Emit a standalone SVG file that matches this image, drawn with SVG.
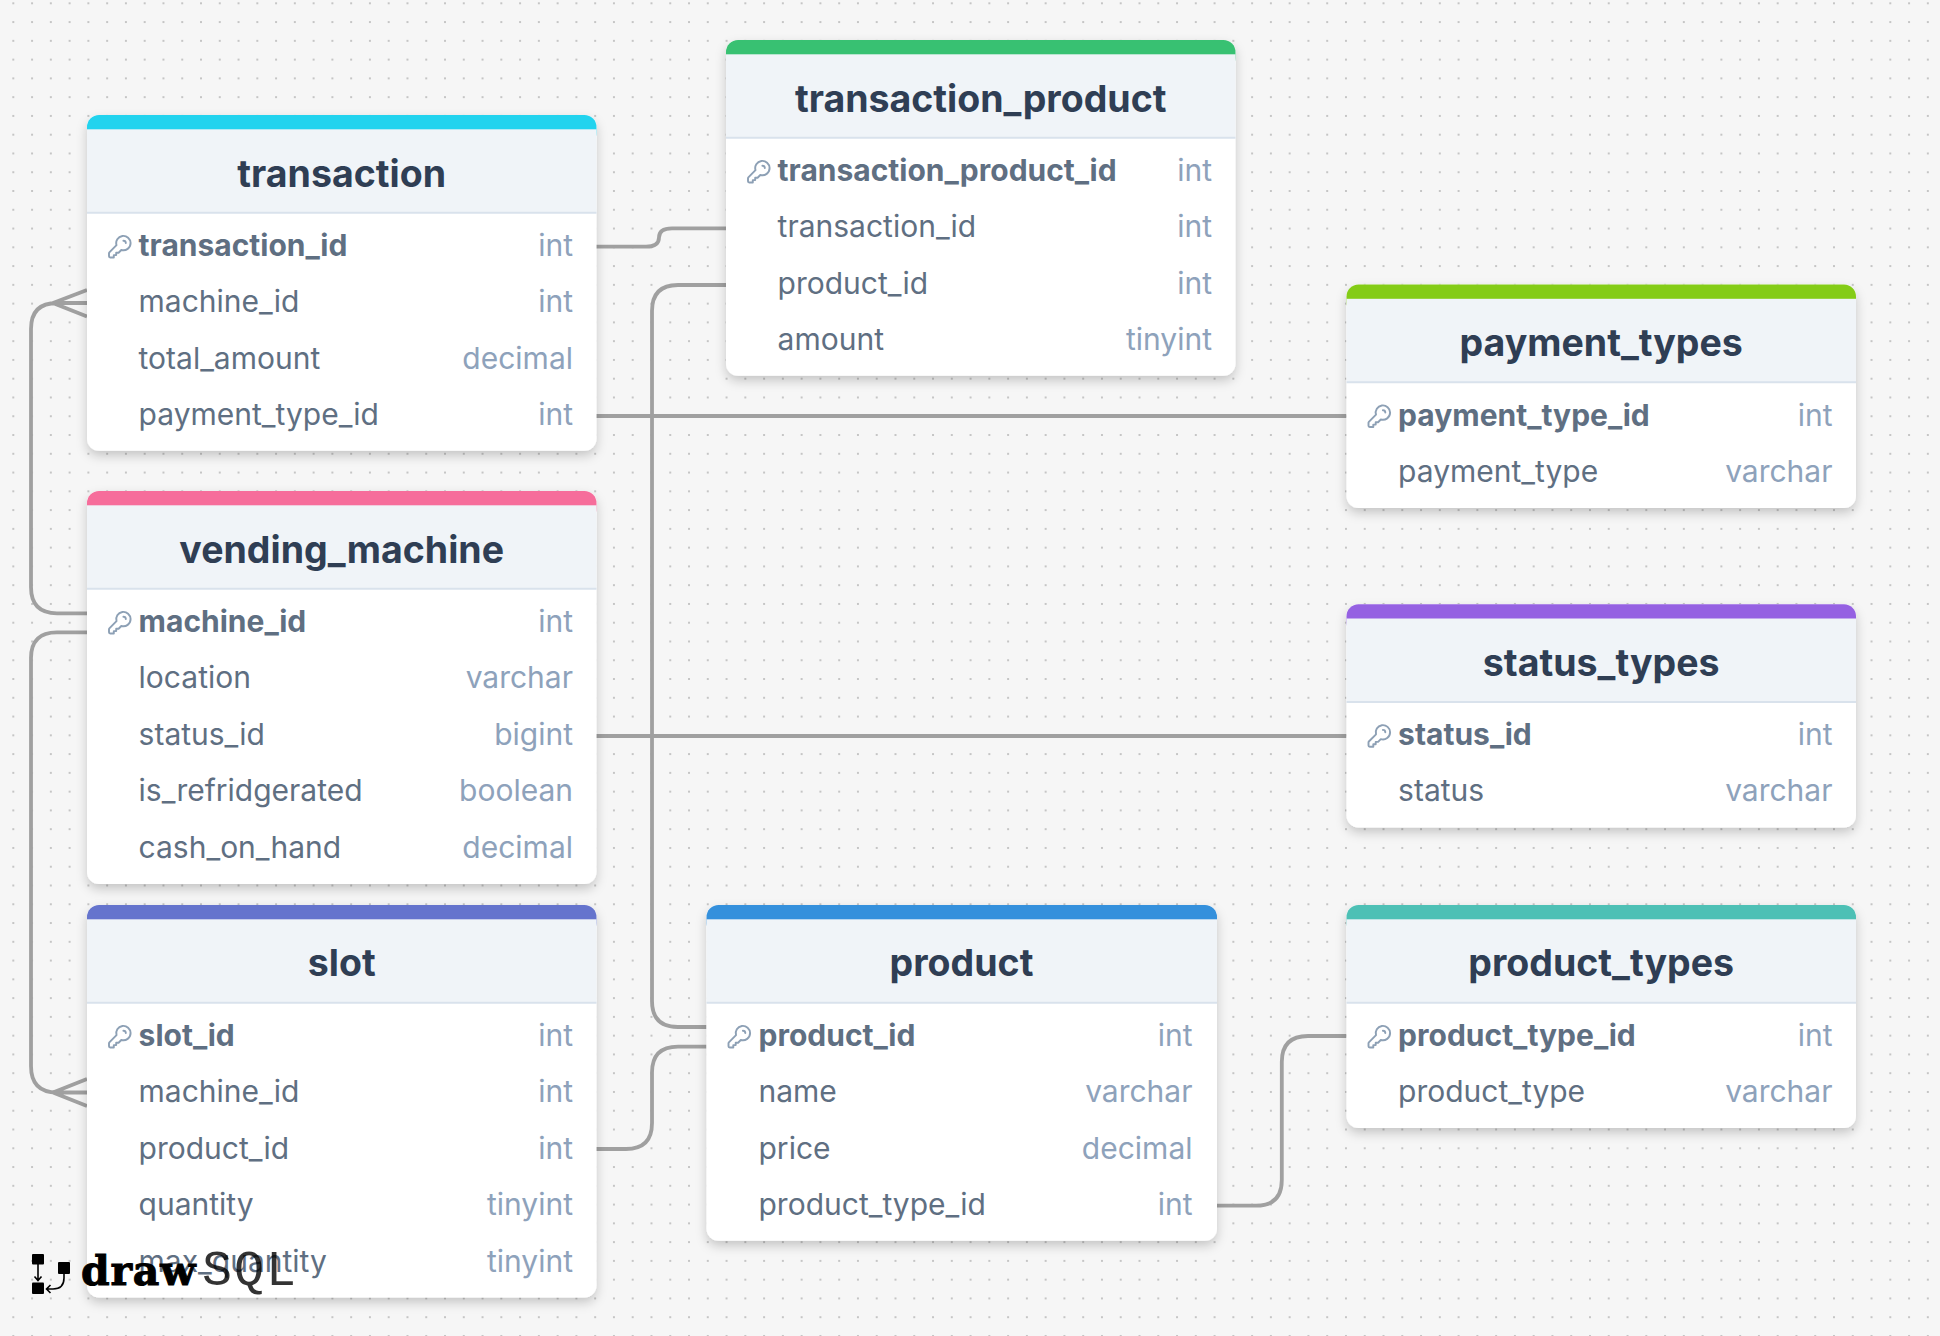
<svg xmlns="http://www.w3.org/2000/svg" xmlns:xlink="http://www.w3.org/1999/xlink" width="1940" height="1336" viewBox="0 0 1940 1336">
<style>
.bg{fill:#f6f6f6}
.card{fill:#fff;filter:url(#sh)}
.head{fill:#f0f4f8}
.sep{stroke:#d9e2ec;stroke-width:2}
text{font-family:Inter,"Noto Sans","Liberation Sans",sans-serif}
.title{font-size:37.5px;font-weight:700;fill:#2f3e54;text-anchor:middle}
.col{font-size:30px;font-weight:400;fill:#5f6f82}
.pk{font-weight:700}
.type{font-size:30px;fill:#8ea2bb;text-anchor:end}
.c{fill:none;stroke:#a0a0a0;stroke-width:3.8}
.key{fill:none;stroke:#8da0b5;stroke-width:1.6;stroke-linecap:round;stroke-linejoin:round}
</style>
<defs>
<pattern id="dots" width="18.77" height="18.77" patternUnits="userSpaceOnUse" patternTransform="translate(13.3 3.3)">
<circle cx="0" cy="0" r="1" fill="#b4b4b4"/><circle cx="18.77" cy="0" r="1" fill="#b4b4b4"/><circle cx="0" cy="18.77" r="1" fill="#b4b4b4"/><circle cx="18.77" cy="18.77" r="1" fill="#b4b4b4"/>
</pattern>
<filter id="sh" x="-10%" y="-10%" width="120%" height="125%"><feDropShadow dx="0" dy="5" stdDeviation="5.5" flood-color="#000" flood-opacity="0.2"/></filter>
<path id="key" class="key" transform="scale(1.2)" d="M15 7a2 2 0 012 2m4 0a6 6 0 01-7.743 5.743L11 17H9v2H7v2H4a1 1 0 01-1-1v-2.586a1 1 0 01.293-.707l5.964-5.964A6 6 0 1121 9z"/>
</defs>
<rect class="bg" width="1940" height="1336"/>
<rect fill="url(#dots)" width="1940" height="1336"/>
<g id="connectors">
<path class="c" d="M596 246.7H646Q659 246.7 659 237.5Q659 228.3 672 228.3H726"/>
<path class="c" d="M726 285H678Q652 285 652 311V1001Q652 1027 678 1027H706.5"/>
<path class="c" d="M596 416H1346.5"/>
<path class="c" d="M596 736H1346.5"/>
<path class="c" d="M87 613.3H57Q31 613.3 31 587V329Q31 303 57 303H87M87 290L53 303L87 316.5"/>
<path class="c" d="M87 632.3H57Q31 632.3 31 658V1066Q31 1092.5 57 1092.5H87M87 1079L53 1092.5L87 1106"/>
<path class="c" d="M596 1149H626Q652 1149 652 1123V1072.6Q652 1046.6 678 1046.6H706.5"/>
<path class="c" d="M1217 1205.7H1256Q1281.8 1205.7 1281.8 1180V1062Q1281.8 1036 1308 1036H1346.5"/>
</g>
<g id="transaction" transform="translate(87 115)">
<rect class="card" width="509.5" height="335.7" rx="12"/><rect fill="#22d3ee" width="509.5" height="30" rx="12"/><rect class="head" y="14.3" width="509.5" height="83.4"/><line class="sep" x2="509.5" y1="97.7" y2="97.7"/>
<text class="title" x="254.7" y="71.6">transaction</text>
<use href="#key" x="18.4" y="117.3"/>
<text class="col pk" x="51.6" y="141">transaction_id</text><text class="type" x="486" y="141">int</text>
<text class="col" x="51.6" y="197.3">machine_id</text><text class="type" x="486" y="197.3">int</text>
<text class="col" x="51.6" y="253.7">total_amount</text><text class="type" x="486" y="253.7">decimal</text>
<text class="col" x="51.6" y="310">payment_type_id</text><text class="type" x="486" y="310">int</text>
</g>
<g id="transaction_product" transform="translate(726 40)">
<rect class="card" width="509.5" height="335.7" rx="12"/><rect fill="#38c172" width="509.5" height="30" rx="12"/><rect class="head" y="14.3" width="509.5" height="83.4"/><line class="sep" x2="509.5" y1="97.7" y2="97.7"/>
<text class="title" x="254.7" y="71.6">transaction_product</text>
<use href="#key" x="18.4" y="117.3"/>
<text class="col pk" x="51.6" y="141">transaction_product_id</text><text class="type" x="486" y="141">int</text>
<text class="col" x="51.6" y="197.3">transaction_id</text><text class="type" x="486" y="197.3">int</text>
<text class="col" x="51.6" y="253.7">product_id</text><text class="type" x="486" y="253.7">int</text>
<text class="col" x="51.6" y="310">amount</text><text class="type" x="486" y="310">tinyint</text>
</g>
<g id="payment_types" transform="translate(1346.5 284.5)">
<rect class="card" width="509.5" height="223.4" rx="12"/><rect fill="#84cc16" width="509.5" height="30" rx="12"/><rect class="head" y="14.3" width="509.5" height="83.4"/><line class="sep" x2="509.5" y1="97.7" y2="97.7"/>
<text class="title" x="254.7" y="71.6">payment_types</text>
<use href="#key" x="18.4" y="117.3"/>
<text class="col pk" x="51.6" y="141">payment_type_id</text><text class="type" x="486" y="141">int</text>
<text class="col" x="51.6" y="197.3">payment_type</text><text class="type" x="486" y="197.3">varchar</text>
</g>
<g id="status_types" transform="translate(1346.5 604.2)">
<rect class="card" width="509.5" height="223.2" rx="12"/><rect fill="#9561e2" width="509.5" height="30" rx="12"/><rect class="head" y="14.3" width="509.5" height="83.4"/><line class="sep" x2="509.5" y1="97.7" y2="97.7"/>
<text class="title" x="254.7" y="71.6">status_types</text>
<use href="#key" x="18.4" y="117.3"/>
<text class="col pk" x="51.6" y="141">status_id</text><text class="type" x="486" y="141">int</text>
<text class="col" x="51.6" y="197.3">status</text><text class="type" x="486" y="197.3">varchar</text>
</g>
<g id="vending_machine" transform="translate(87 491)">
<rect class="card" width="509.5" height="393" rx="12"/><rect fill="#f66d9b" width="509.5" height="30" rx="12"/><rect class="head" y="14.3" width="509.5" height="83.4"/><line class="sep" x2="509.5" y1="97.7" y2="97.7"/>
<text class="title" x="254.7" y="71.6">vending_machine</text>
<use href="#key" x="18.4" y="117.3"/>
<text class="col pk" x="51.6" y="141">machine_id</text><text class="type" x="486" y="141">int</text>
<text class="col" x="51.6" y="197.3">location</text><text class="type" x="486" y="197.3">varchar</text>
<text class="col" x="51.6" y="253.7">status_id</text><text class="type" x="486" y="253.7">bigint</text>
<text class="col" x="51.6" y="310">is_refridgerated</text><text class="type" x="486" y="310">boolean</text>
<text class="col" x="51.6" y="367">cash_on_hand</text><text class="type" x="486" y="367">decimal</text>
</g>
<g id="slot" transform="translate(87 905)">
<rect class="card" width="509.5" height="392.5" rx="12"/><rect fill="#6574cd" width="509.5" height="30" rx="12"/><rect class="head" y="14.3" width="509.5" height="83.4"/><line class="sep" x2="509.5" y1="97.7" y2="97.7"/>
<text class="title" x="254.7" y="71.4">slot</text>
<use href="#key" x="18.4" y="117.3"/>
<text class="col pk" x="51.6" y="141">slot_id</text><text class="type" x="486" y="141">int</text>
<text class="col" x="51.6" y="197.3">machine_id</text><text class="type" x="486" y="197.3">int</text>
<text class="col" x="51.6" y="253.7">product_id</text><text class="type" x="486" y="253.7">int</text>
<text class="col" x="51.6" y="310">quantity</text><text class="type" x="486" y="310">tinyint</text>
<text class="col" x="51.6" y="366.5">max_quantity</text><text class="type" x="486" y="366.5">tinyint</text>
</g>
<g id="product" transform="translate(706.5 905)">
<rect class="card" width="510.5" height="335.7" rx="12"/><rect fill="#3490dc" width="510.5" height="30" rx="12"/><rect class="head" y="14.3" width="510.5" height="83.4"/><line class="sep" x2="510.5" y1="97.7" y2="97.7"/>
<text class="title" x="255" y="71.4">product</text>
<use href="#key" x="18.4" y="117.3"/>
<text class="col pk" x="52" y="141">product_id</text><text class="type" x="486" y="141">int</text>
<text class="col" x="52" y="197.3">name</text><text class="type" x="486" y="197.3">varchar</text>
<text class="col" x="52" y="253.7">price</text><text class="type" x="486" y="253.7">decimal</text>
<text class="col" x="52" y="310">product_type_id</text><text class="type" x="486" y="310">int</text>
</g>
<g id="product_types" transform="translate(1346.5 905)">
<rect class="card" width="509.5" height="222.9" rx="12"/><rect fill="#4dc0b5" width="509.5" height="30" rx="12"/><rect class="head" y="14.3" width="509.5" height="83.4"/><line class="sep" x2="509.5" y1="97.7" y2="97.7"/>
<text class="title" x="254.7" y="71.4">product_types</text>
<use href="#key" x="18.4" y="117.3"/>
<text class="col pk" x="51.6" y="141">product_type_id</text><text class="type" x="486" y="141">int</text>
<text class="col" x="51.6" y="197.3">product_type</text><text class="type" x="486" y="197.3">varchar</text>
</g>
<g id="watermark">
<rect x="32" y="1254" width="12" height="10.5" rx="1"/><rect x="58" y="1262" width="12" height="12" rx="1"/><rect x="32" y="1282.5" width="12" height="11.5" rx="1"/>
<path d="M38 1264V1280M34.5 1276.5L38 1280.5L41.5 1276.5M64 1274V1278Q64 1289 53 1289H47M50.5 1285L46.5 1289L50.5 1293" fill="none" stroke="#000" stroke-width="1.6"/>
<text x="81" y="1285" style="font-family:'DejaVu Serif',serif;font-size:41px;font-weight:700" letter-spacing="0.8" fill="#000" stroke="#000" stroke-width="1">draw</text>
<text x="202" y="1285" style="font-family:'Liberation Mono',monospace;font-size:50px;font-weight:400" letter-spacing="2" fill="#000" fill-opacity="0.8">SQL</text>
</g>
</svg>
